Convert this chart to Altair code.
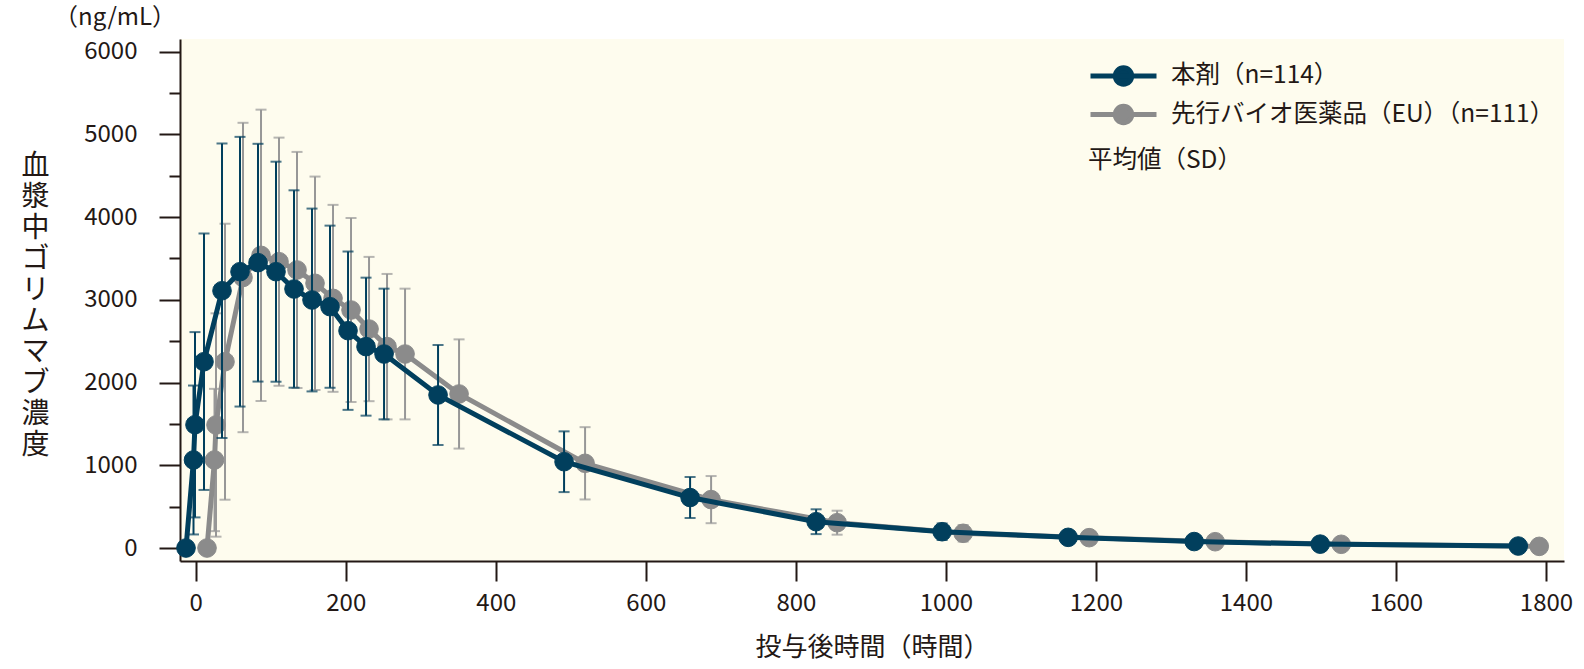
import altair as alt
import pandas as pd

# ---------------- data ----------------
SERIES = ["本剤（n=114）", "先行バイオ医薬品（EU）（n=111）"]
TIME_H = [0, 10, 12, 24, 48, 72, 96, 120, 144, 168, 192, 216, 240, 264,
          336, 504, 672, 840, 1008, 1176, 1344, 1512, 1776]
MEAN_TEST = [0, 1064, 1490, 2252, 3110, 3340, 3449, 3340, 3131, 2998, 2917, 2627, 2434, 2345,
             1850, 1043, 610, 318, 197, 129, 78, 47, 24]
SD_TEST = [0, 900, 1120, 1550, 1780, 1630, 1437, 1330, 1193, 1105, 980, 957, 834, 790,
           605, 367, 248, 150, 100, 70, 45, 30, 15]
MEAN_REF = [0, 1064, 1487, 2252, 3270, 3538, 3461, 3361, 3200, 3018, 2877, 2647, 2434, 2345,
            1862, 1024, 585, 306, 178, 125, 76, 45, 20]
SD_REF = [0, 860, 1350, 1668, 1870, 1761, 1500, 1427, 1290, 1130, 1112, 872, 879, 790,
          660, 437, 285, 145, 100, 70, 50, 35, 20]

X_TICKS = [0, 200, 400, 600, 800, 1000, 1200, 1400, 1600, 1800]
Y_TICKS = [0, 500, 1000, 1500, 2000, 2500, 3000, 3500, 4000, 4500, 5000, 5500, 6000]

# ---------------- style ----------------
COLORS = ["#013F5D", "#8B8B8B"]
BAR_COLORS = ["#013F5D", "#979797"]
DODGE_H = [-13, 15]          # horizontal dodge of each series (hours)
TXT = "#231815"
FONT = "Noto Sans CJK JP"
NUM_FONT = "Liberation Sans Narrow, Noto Sans CJK JP, sans-serif"
BG = "#FEFCEE"

rows = []
for s, means, sds in [(SERIES[0], MEAN_TEST, SD_TEST), (SERIES[1], MEAN_REF, SD_REF)]:
    for t, m, sd in zip(TIME_H, means, sds):
        rows.append({"series": s, "t": t, "mean": m, "sd": sd})
df = pd.DataFrame(rows)

xscale = alt.Scale(domain=[-21, 1824], nice=False, zero=False)
yscale = alt.Scale(domain=[-157, 6153], nice=False, zero=False)

xaxis = alt.Axis(values=X_TICKS, format="d", grid=False, tickSize=20, tickWidth=2,
                 tickColor=TXT, domainColor=TXT, domainWidth=2, labelFont=NUM_FONT,
                 labelFontSize=24, labelColor=TXT, labelPadding=10, labelFlush=False,
                 titleFont=FONT, titleFontSize=26, titleFontWeight="normal", titleColor=TXT,
                 titleY=86, titleBaseline="middle")
yaxis = alt.Axis(values=Y_TICKS, format="d", grid=False,
                 tickSize={"condition": {"test": "datum.value % 1000 === 0", "value": 21}, "value": 11},
                 tickWidth=2, tickColor=TXT, domainColor=TXT, domainWidth=2,
                 labelExpr="datum.value % 1000 === 0 ? datum.label : ''",
                 labelFont=FONT, labelFontSize=24, labelColor=TXT, labelPadding=22,
                 titleFont=FONT, titleFontSize=28, titleFontWeight="normal", titleColor=TXT,
                 titleAngle=0, titleAlign="center", titleBaseline="middle",
                 titleX=-145, titleY=127, titleLineHeight=31)
X_TITLE = "投与後時間（時間）"
Y_TITLE = list("血漿中ゴリムマブ濃度")

X = alt.X("tp:Q", scale=xscale, axis=xaxis, title=X_TITLE)


def Yf(field):
    return alt.Y(f"{field}:Q", scale=yscale, axis=yaxis, title=Y_TITLE)


cscale = alt.Scale(domain=SERIES, range=COLORS)
SYMBOL = "M-1,0L1,0M0.25,0A0.25,0.25,0,1,1,-0.25,0A0.25,0.25,0,1,1,0.25,0Z"
leg = alt.Legend(orient="none", legendX=908, legendY=19, symbolType=SYMBOL, symbolSize=4356,
                 symbolStrokeWidth=5, symbolOpacity=1, labelFont=FONT, labelFontSize=24.5,
                 labelColor=TXT, labelLimit=900, labelOffset=12, title="平均値（SD）",
                 titleOrient="bottom", titleFont=FONT, titleFontSize=24.5, titleFontWeight="normal",
                 titleColor=TXT, titlePadding=16, padding=0, rowPadding=2.5, clipHeight=36)


def series_layers(i):
    b = (alt.Chart(df)
         .transform_filter(alt.datum.series == SERIES[i])
         .transform_calculate(tp=f"datum.t + ({DODGE_H[i]})",
                              lo="datum.mean - datum.sd",
                              hi="datum.mean + datum.sd"))
    rule = b.mark_rule(strokeWidth=2, color=BAR_COLORS[i]).encode(x=X, y=Yf("lo"), y2="hi:Q")
    cap_lo = b.mark_tick(orient="horizontal", size=11, thickness=2, color=BAR_COLORS[i]).encode(x=X, y=Yf("lo"))
    cap_hi = b.mark_tick(orient="horizontal", size=11, thickness=2, color=BAR_COLORS[i]).encode(x=X, y=Yf("hi"))
    line = b.mark_line(strokeWidth=5, color=COLORS[i]).encode(x=X, y=Yf("mean"))
    pts = b.mark_point(shape="circle", filled=True, size=346, opacity=1, strokeWidth=1).encode(
        x=X, y=Yf("mean"),
        fill=alt.Fill("series:N", scale=cscale, legend=leg),
        stroke=alt.Stroke("series:N", scale=cscale, legend=leg))
    return [rule, cap_lo, cap_hi, line, pts]


chart = alt.layer(*(series_layers(1) + series_layers(0))).properties(
    width=1384, height=522,
    padding={"left": 180, "top": 39, "right": 20, "bottom": 108},
    autosize=alt.AutoSizeParams(type="none"),
    title=alt.TitleParams(text="（ng/mL）", anchor="start", orient="top", frame="group",
                          dx=-126, dy=4, offset=1, baseline="middle", font=FONT, fontSize=24,
                          fontWeight="normal", color=TXT),
).configure_view(fill=BG, stroke=None)

chart.save("out.html", embed_options={"renderer": "svg", "actions": False})
